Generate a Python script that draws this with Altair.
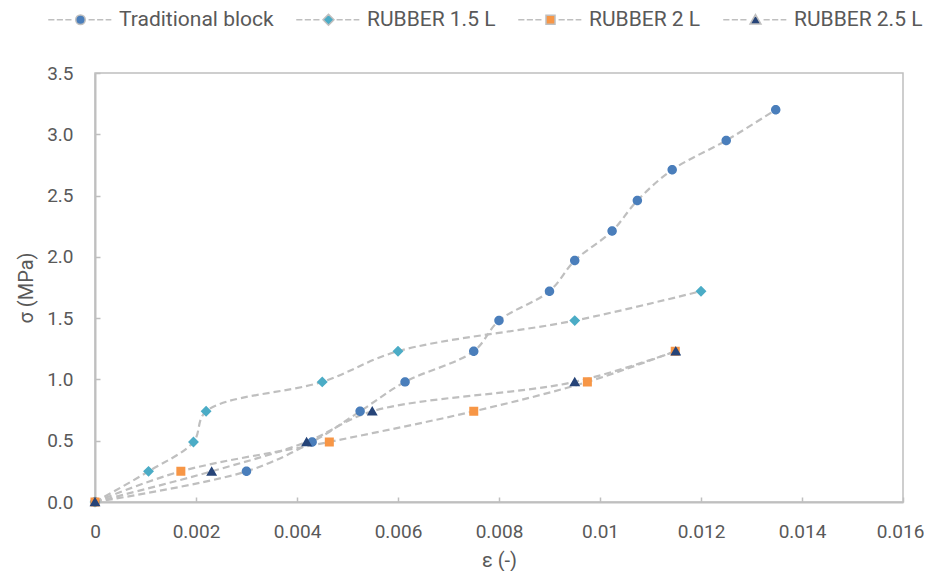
import altair as alt
import pandas as pd

# ---- data ----
series_names = ["Traditional block", "RUBBER 1.5 L", "RUBBER 2 L", "RUBBER 2.5 L"]

trad_eps = [0, 0.0030, 0.0043, 0.00525, 0.00614, 0.0075, 0.0080, 0.0090, 0.0095,
            0.01024, 0.01074, 0.01143, 0.0125, 0.01348]
trad_sig = [0, 0.25, 0.49, 0.74, 0.98, 1.23, 1.48, 1.72, 1.97, 2.21, 2.46, 2.71, 2.95, 3.20]

r15_eps = [0, 0.00106, 0.00195, 0.0022, 0.0045, 0.0060, 0.0095, 0.0120]
r15_sig = [0, 0.25, 0.49, 0.74, 0.98, 1.23, 1.48, 1.72]

r20_eps = [0, 0.0017, 0.00464, 0.0075, 0.00975, 0.01149]
r20_sig = [0, 0.25, 0.49, 0.74, 0.98, 1.23]

r25_eps = [0, 0.00231, 0.00419, 0.00549, 0.0095, 0.0115]
r25_sig = [0, 0.25, 0.49, 0.74, 0.98, 1.23]

x_ticks = [0, 0.002, 0.004, 0.006, 0.008, 0.01, 0.012, 0.014, 0.016]
y_ticks = [0, 0.5, 1.0, 1.5, 2.0, 2.5, 3.0, 3.5]

colors = ["#4A7EBB", "#4BACC6", "#F79646", "#264478"]

# ---- build table ----
rows = []
for name, xs, ys in zip(series_names,
                        [trad_eps, r15_eps, r20_eps, r25_eps],
                        [trad_sig, r15_sig, r20_sig, r25_sig]):
    for i, (e, s) in enumerate(zip(xs, ys)):
        rows.append({"eps": e, "sigma": s, "series": name, "order": i})
df = pd.DataFrame(rows)

# legend symbols: marker plus dashed line stubs (stubs are stroke-only)
dashes = "M-6.8,0H-5.5M-5,0H-3.7M-3.2,0H-1.9M1.7,0H3M3.5,0H4.8M5.3,0H6.5"
shape_paths = [
    "M1,0A1,1 0 1,1 -1,0A1,1 0 1,1 1,0Z" + dashes,
    "M0,-1.15L1.15,0L0,1.15L-1.15,0Z" + dashes,
    "M-0.95,-0.95H0.95V0.95H-0.95Z" + dashes,
    "M0,-1.1L1.15,0.9H-1.15Z" + dashes,
]

FONT = "Roboto"
TXT = "#595959"
GRAY = "#BFBFBF"

x_enc = alt.X(
    "eps:Q",
    scale=alt.Scale(domain=[0, 0.016], nice=False, zero=False),
    axis=alt.Axis(
        values=x_ticks, format="~g", title="ε (-)", grid=False,
        domainColor=GRAY, domainWidth=2, tickColor=GRAY, tickWidth=1.5,
        tickSize={"expr": "-5"}, labelPadding=25, labelFlush=False, labelOverlap=False,
        labelOffset={"condition": {"test": "datum.value >= 0.0159", "value": -3}, "value": 0},
        labelFont=FONT, labelFontSize=19, labelColor=TXT,
        titleFont=FONT, titleFontSize=20, titleColor=TXT, titleFontWeight="normal",
        titleX=404, titleY=58, titleBaseline="middle",
    ),
)
y_enc = alt.Y(
    "sigma:Q",
    scale=alt.Scale(domain=[0, 3.5], nice=False),
    axis=alt.Axis(
        values=y_ticks, format=".1f", title="σ (MPa)", grid=False,
        domainColor=GRAY, domainWidth=2, tickColor=GRAY, tickWidth=1.5,
        tickSize={"expr": "-5"}, labelPadding=27, labelFlush=False, labelOverlap=False,
        labelFont=FONT, labelFontSize=19, labelColor=TXT,
        titleFont=FONT, titleFontSize=20, titleColor=TXT, titleFontWeight="normal",
        titleX=-69, titleY=214.5, titleBaseline="middle",
    ),
)

legend = alt.Legend(
    title=None, orient="none", legendX=-52, legendY=-64, direction="horizontal",
    symbolSize=90, symbolOffset=27, labelOffset=28, columnPadding=17, padding=0,
    labelFont=FONT, labelFontSize=21, labelColor=TXT,
    symbolStrokeColor=GRAY, symbolStrokeWidth=1.5,
)

lines = alt.Chart(df).mark_line(
    color=GRAY, strokeWidth=2.2, strokeDash=[7, 4], interpolate="catmull-rom"
).encode(x=x_enc, y=y_enc, detail="series:N", order="order:Q")

points = alt.Chart(df).mark_point(
    filled=True, size=90, opacity=1, strokeWidth=0
).encode(
    x=x_enc, y=y_enc,
    color=alt.Color("series:N", scale=alt.Scale(domain=series_names, range=colors), legend=legend),
    shape=alt.Shape("series:N", scale=alt.Scale(domain=series_names, range=shape_paths), legend=legend),
)

chart = alt.layer(lines, points).properties(
    width=808, height=429,
    autosize=alt.AutoSizeParams(type="none"),
    padding={"left": 87, "top": 65, "right": 21, "bottom": 69},
).configure_view(stroke=GRAY, strokeWidth=1.5)

chart.save("out.html", embed_options={"renderer": "svg", "actions": False})
